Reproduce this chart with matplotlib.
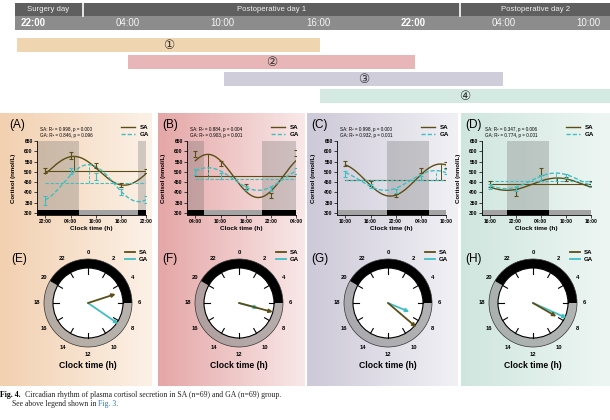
import numpy as np
import matplotlib
matplotlib.use("Agg")
import matplotlib.pyplot as plt
from matplotlib.patches import Rectangle, Wedge, Circle, FancyArrowPatch
from matplotlib.lines import Line2D
from matplotlib.colors import LinearSegmentedColormap

plt.rcParams['font.family'] = ['Liberation Sans', 'DejaVu Sans']

W, H = 610, 420

# ---------------- data ----------------
day_labels = ["Surgery day", "Postoperative day 1", "Postoperative day 2"]
timeline_labels = ["22:00", "04:00", "10:00", "16:00", "22:00", "04:00", "10:00"]
timeline_hours = [0, 6, 12, 18, 24, 30, 36]          # hours after 22:00 of surgery day
timeline_bold = [True, False, False, False, True, False, False]
window_labels = ["①", "②", "③", "④"]
window_start = [0, 6, 12, 18]
window_end = [18, 24, 30, 38]

panel_letters = ["(A)", "(B)", "(C)", "(D)"]
clock_letters = ["(E)", "(F)", "(G)", "(H)"]
start_hour = [22, 4, 10, 16]
sample_offsets = [0, 6, 12, 18, 24]
tick_labels = [["22:00", "04:00", "10:00", "16:00", "22:00"],
               ["04:00", "10:00", "16:00", "22:00", "04:00"],
               ["10:00", "16:00", "22:00", "04:00", "10:00"],
               ["16:00", "22:00", "04:00", "10:00", "16:00"]]

sa_mean = [[505, 580, 533, 437, 505],
           [585, 540, 430, 385, 590],
           [540, 445, 385, 505, 535],
           [440, 400, 502, 465, 445]]
sa_sem = [[12, 16, 12, 10, 11],
          [15, 14, 12, 11, 14],
          [14, 12, 8, 12, 15],
          [14, 18, 15, 12, 12]]
ga_mean = [[360, 505, 478, 400, 365],
           [500, 478, 420, 415, 505],
           [490, 432, 408, 470, 500],
           [430, 415, 470, 478, 440]]
ga_sem = [[22, 14, 16, 15, 15],
          [16, 15, 9, 9, 15],
          [14, 10, 10, 12, 12],
          [12, 10, 14, 10, 12]]

sa_mesor = [505, 480, 460, 440]
sa_amp = [70, 105, 78, 30]
sa_acro = [4.8, 7.0, 8.7, 8.0]      # clock hour of peak
ga_mesor = [445, 465, 458, 456]
ga_amp = [90, 55, 48, 38]
ga_acro = [8.3, 7.0, 7.5, 7.6]

sa_fit = [("0.998", "0.000"), ("0.884", "0.004"), ("0.998", "0.000"), ("0.347", "0.006")]
ga_fit = [("0.846", "0.096"), ("0.903", "0.001"), ("0.932", "0.001"), ("0.774", "0.001")]

clock_sa_len = [0.83, 1.0, 1.06, 0.77]   # arrow length, fraction of clock face radius
clock_ga_len = [1.05, 0.57, 0.66, 1.05]
clock_hours = list(range(0, 24, 2))

# ---------------- style ----------------
SA_C = "#5b4e16"
GA_C = "#3fbfc2"
bg_left = ["#f2cfae", "#e5a6a6", "#cdc9d8", "#cfe6de"]
bg_right = ["#fcf1e7", "#f9e8e8", "#f1f1f5", "#eef6f3"]
bar_colors = ["#efd5b0", "#e8b6b6", "#cfcdd9", "#d3e9e1"]
panel_x = [(-5, 152), (158, 305), (307, 458), (461, 610)]
PT, PB = 113, 386

fig = plt.figure(figsize=(6.1, 4.2), dpi=100)
bg = fig.add_axes([0, 0, 1, 1])
bg.set_xlim(0, W)
bg.set_ylim(H, 0)
bg.axis("off")

# ---- timeline header ----
bg.add_patch(Rectangle((15, 3), W - 15, 13, color="#5f5f5f", lw=0))
bg.add_patch(Rectangle((15, 16), W - 15, 14, color="#8c8c8c", lw=0))
for xd in (83, 460):
    bg.plot([xd, xd], [3, 16], color="white", lw=1.2)
for lab, xc in zip(day_labels, [48, 272, 536]):
    bg.text(xc, 9.5, lab, color="#f2f2f2", fontsize=5.6, ha="center", va="center")
tl_px = [17, 128, 224, 320, 415, 503, 587]
def tmap(h):
    if h > timeline_hours[-1]:
        return tl_px[-1] + (h - timeline_hours[-1]) * 14
    return float(np.interp(h, timeline_hours, tl_px))
lab_x = [33, 128, 222, 318, 413, 504, 588]
for lab, xc, b in zip(timeline_labels, lab_x, timeline_bold):
    bg.text(xc, 23.5, lab, color="white" if b else "#f4f4f4", fontsize=7, ha="center",
            va="center", fontweight="bold" if b else "normal")

for i in range(4):
    x0 = tmap(window_start[i])
    x1 = min(W, tmap(window_end[i]))
    y0 = 38 + 17 * i
    bg.add_patch(Rectangle((x0, y0), x1 - x0, 14, color=bar_colors[i], lw=0))
    bg.text((x0 + x1) / 2, y0 + 7.3, window_labels[i], fontsize=9, ha="center", va="center",
            color="#333333", family=["DejaVu Sans", "Noto Sans CJK SC"])

# ---- panel backgrounds ----
for i in range(4):
    cmap = LinearSegmentedColormap.from_list("g%d" % i, [bg_left[i], bg_right[i]])
    grad = np.tile(np.linspace(0, 1, 256), (2, 1))
    x0, x1 = panel_x[i]
    bg.imshow(grad, cmap=cmap, aspect="auto", extent=(x0, x1, PB, PT), zorder=0,
              interpolation="bilinear")
bg.set_xlim(0, W)
bg.set_ylim(H, 0)

# ---- line charts ----
ax_left = [37, 187, 337, 482]
AXW = 109
AX_T, AX_B = 141, 215
YMIN, YMAX = 290, 650
BAR_TOP = 316

def add_px_axes(x0, y0, x1, y1):
    return fig.add_axes([x0 / W, 1 - y1 / H, (x1 - x0) / W, (y1 - y0) / H])

def dark_intervals(start):
    d = (20 - start) % 24
    out = []
    for a in (d - 24, d, d + 24):
        lo, hi = max(a, -2), min(a + 10, 24)
        if hi > lo:
            out.append((lo, hi))
    return out

for i in range(4):
    ax = add_px_axes(ax_left[i], AX_T, ax_left[i] + AXW, AX_B)
    ax.set_facecolor("none")
    ax.set_xlim(-2, 24)
    ax.set_ylim(YMIN, YMAX)
    darks = dark_intervals(start_hour[i])
    ax.add_patch(Rectangle((-2, YMIN), 26, BAR_TOP - YMIN, color="#a3a3a3", lw=0, zorder=1))
    for lo, hi in darks:
        ax.add_patch(Rectangle((lo, YMIN), hi - lo, BAR_TOP - YMIN, color="black", lw=0, zorder=1))
        ax.add_patch(Rectangle((lo, BAR_TOP), hi - lo, YMAX - BAR_TOP, color="#6e6e6e",
                               alpha=0.3, lw=0, zorder=0.5))
    t = np.linspace(0, 24, 241)
    for mes, amp, acro, col, ls, mean, sem in (
            (sa_mesor[i], sa_amp[i], sa_acro[i], SA_C, "-", sa_mean[i], sa_sem[i]),
            (ga_mesor[i], ga_amp[i], ga_acro[i], GA_C, (0, (3, 1.5)), ga_mean[i], ga_sem[i])):
        y = mes + amp * np.cos(2 * np.pi * (start_hour[i] + t - acro) / 24)
        ax.plot(t, y, color=col, lw=1.0, ls=ls, zorder=3)
        ax.plot([0, 24], [mes, mes], color=col, lw=0.8, ls=ls, zorder=3)
        tp = (acro - start_hour[i]) % 24
        ax.plot([tp, tp], [mes, mes + amp], color=col, lw=0.7, ls=ls, zorder=3)
        ax.errorbar(sample_offsets, mean, yerr=sem, fmt="none", ecolor=col,
                    elinewidth=0.8, capsize=1.3, capthick=0.8, zorder=4)
    for s in ("top", "right"):
        ax.spines[s].set_visible(False)
    for s in ("left", "bottom"):
        ax.spines[s].set_linewidth(0.6)
    ax.set_yticks(range(300, 651, 50))
    ax.set_xticks(sample_offsets)
    ax.set_xticklabels(tick_labels[i])
    ax.tick_params(length=2, width=0.5, labelsize=3.6, pad=1)
    for lab in ax.get_xticklabels() + ax.get_yticklabels():
        lab.set_fontweight("bold")
    ax.set_xlabel("Clock time (h)", fontsize=4.6, fontweight="bold", labelpad=1.5)
    ax.set_ylabel("Cortisol (nmol/L)", fontsize=4.4, fontweight="bold")
    ax.yaxis.set_label_coords(-21 / AXW, 0.5)
    # fit stats
    fig.text((ax_left[i] + 3) / W, 1 - 129 / H,
             "SA: R² = %s, p = %s" % sa_fit[i], fontsize=3.3, va="center")
    fig.text((ax_left[i] + 3) / W, 1 - 136 / H,
             "GA: R² = %s, p = %s" % ga_fit[i], fontsize=3.3, va="center")
    handles = [Line2D([], [], color=SA_C, lw=1.0),
               Line2D([], [], color=GA_C, lw=1.0, ls=(0, (3, 1.5)))]
    ax.legend(handles, ["SA", "GA"], loc="upper right",
              bbox_to_anchor=((ax_left[i] + AXW + 3) / W, 1 - 125 / H),
              bbox_transform=fig.transFigure, frameon=False,
              prop={"size": 4.5, "weight": "bold"}, handlelength=2.2,
              handletextpad=0.8, labelspacing=0.2, borderpad=0, borderaxespad=0)
    fig.text((panel_x[i][0] + 4 if i > 0 else 9) / W, 1 - 125 / H, panel_letters[i],
             fontsize=8.5, va="center")

# ---- clocks ----
clock_cx = [88, 239, 388, 533]
CY = 303
R_OUT, R_IN = 44, 35

def hour_xy(cx, cy, h, r):
    a = 2 * np.pi * h / 24
    return cx + r * np.sin(a), cy - r * np.cos(a)

for i in range(4):
    cx = clock_cx[i]
    # theta in data coords (y down): theta = 15*h - 90
    bg.add_patch(Wedge((cx, CY), R_OUT, 15 * 6 - 90, 15 * 20 - 90, width=R_OUT - R_IN,
                       facecolor="#939393", alpha=0.65, edgecolor="none", zorder=2))
    bg.add_patch(Wedge((cx, CY), R_OUT, 15 * 20 - 90, 15 * 30 - 90, width=R_OUT - R_IN,
                       facecolor="black", edgecolor="none", zorder=2))
    bg.add_patch(Circle((cx, CY), R_OUT, facecolor="none", edgecolor="#333333", lw=0.5, zorder=3))
    bg.add_patch(Circle((cx, CY), R_IN, facecolor="white", edgecolor="black", lw=0.8, zorder=3))
    for h in clock_hours:
        xa, ya = hour_xy(cx, CY, h, R_IN - 5.5)
        xb, yb = hour_xy(cx, CY, h, R_IN)
        bg.plot([xa, xb], [ya, yb], color="black", lw=0.8, zorder=4)
        xt, yt = hour_xy(cx, CY, h, 51)
        bg.text(xt, yt, str(h), fontsize=4.2, fontweight="bold", ha="center", va="center", zorder=4)
    for acro, frac, col in ((ga_acro[i], clock_ga_len[i], GA_C), (sa_acro[i], clock_sa_len[i], SA_C)):
        xe, ye = hour_xy(cx, CY, acro, R_IN * frac)
        bg.add_patch(FancyArrowPatch((cx, CY), (xe, ye), arrowstyle="-|>", mutation_scale=5,
                                     color=col, lw=1.3, shrinkA=0, shrinkB=0, zorder=5))
    bg.text(cx, 365, "Clock time (h)", fontsize=6.2, fontweight="bold", ha="center", va="center")
    bg.text(panel_x[i][0] + 4 if i > 0 else 11, 259, clock_letters[i], fontsize=8.5, va="center")
    handles = [Line2D([], [], color=SA_C, lw=1.3), Line2D([], [], color=GA_C, lw=1.3)]
    bg.legend(handles, ["SA", "GA"], loc="upper left",
              bbox_to_anchor=((cx + 37) / W, 1 - 250 / H), bbox_transform=fig.transFigure,
              frameon=False, prop={"size": 4.4, "weight": "bold"}, handlelength=1.6,
              handletextpad=0.6, labelspacing=0.2, borderpad=0, borderaxespad=0)
    if i < 3:
        leg = bg.get_legend()
        bg.add_artist(leg)

# ---- caption ----
cap_font = ["Liberation Serif", "DejaVu Serif"]
bg.text(0.5, 395, "Fig. 4.", fontsize=5.6, fontweight="bold", va="center", family=cap_font)
bg.text(25, 395, "Circadian rhythm of plasma cortisol secretion in SA (n=69) and GA (n=69) group.",
        fontsize=5.6, va="center", family=cap_font, color="#222222")
t2 = bg.text(12, 404, "See above legend shown in ", fontsize=5.6, va="center", family=cap_font,
             color="#222222")
fig.canvas.draw()
bb = t2.get_window_extent()
xend = bg.transData.inverted().transform((bb.x1, bb.y0))[0]
bg.text(xend, 404, "Fig. 3.", fontsize=5.6, va="center", family=cap_font, color="#2f72c4")

fig.savefig("out.png", dpi=100)
